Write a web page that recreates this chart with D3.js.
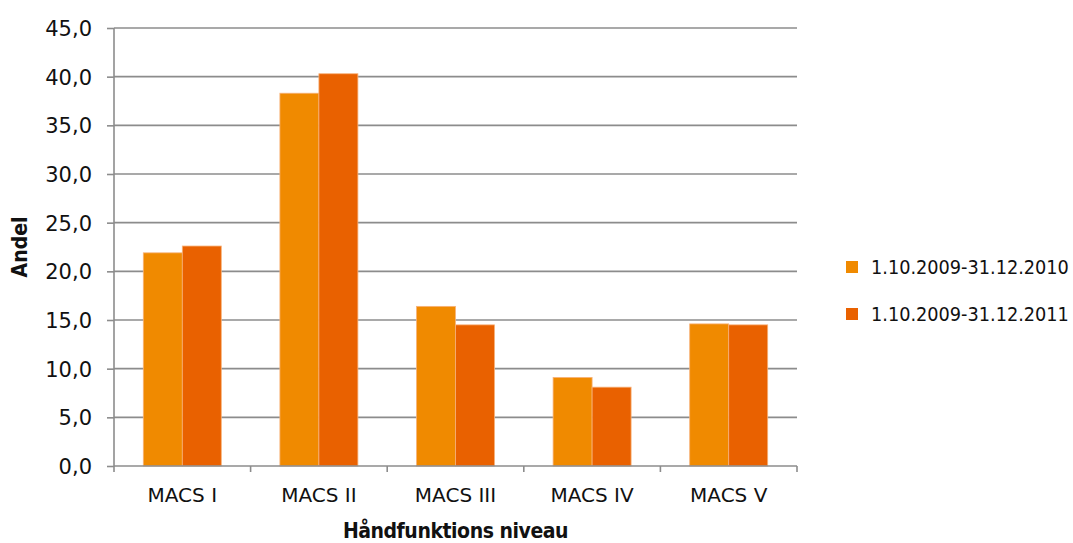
<!DOCTYPE html>
<html>
<head>
<meta charset="utf-8">
<script src="https://cdn.jsdelivr.net/npm/d3@7"></script>
<style>
  html, body { margin: 0; padding: 0; background: #fff; }
  svg { display: block; }
  text { font-family: "DejaVu Sans", sans-serif; fill: #111; }
  .title { font-family: "DejaVu Sans Condensed", "DejaVu Sans", sans-serif; font-weight: bold; }
  .legend-text { font-family: "DejaVu Sans Condensed", "DejaVu Sans", sans-serif; }
</style>
</head>
<body>
<svg id="chart" width="1073" height="543"></svg>
<script>
// MACS levels and share (%) per registration period
const categories = ["MACS I", "MACS II", "MACS III", "MACS IV", "MACS V"];
const seriesNames = ["1.10.2009-31.12.2010", "1.10.2009-31.12.2011"];
const series2010 = [21.9, 38.3, 16.4, 9.1, 14.6];
const series2011 = [22.6, 40.3, 14.5, 8.1, 14.5];
const yTicks = [0, 5, 10, 15, 20, 25, 30, 35, 40, 45];
const colors = ["#F08A00", "#E96100"];

const svg = d3.select("#chart");
const margin = { left: 114, right: 1073 - 797, top: 28, bottom: 543 - 466 };
const width = 1073 - margin.left - margin.right;
const height = 543 - margin.top - margin.bottom;

const g = svg.append("g").attr("transform", `translate(${margin.left},${margin.top})`);

const x = d3.scaleBand().domain(categories).range([0, width]).paddingInner(0).paddingOuter(0);
const inner = d3.scaleBand().domain([0, 1]).range([x.bandwidth() * 0.2145, x.bandwidth() * 0.7855]);
const y = d3.scaleLinear().domain([0, 45]).range([height, 0]);

const fmt = d => d.toFixed(1).replace(".", ",");

// horizontal gridlines
g.append("g").selectAll("line").data(yTicks.slice(1)).join("line")
  .attr("x1", 0).attr("x2", width)
  .attr("y1", d => y(d)).attr("y2", d => y(d))
  .attr("stroke", "#8c8c8c").attr("stroke-width", 1.6);

// bars
const rows = categories.map((c, i) => [series2010[i], series2011[i]]);
const groups = g.append("g").selectAll("g").data(rows).join("g")
  .attr("transform", (d, i) => `translate(${x(categories[i])},0)`);
groups.selectAll("rect").data(d => d).join("rect")
  .attr("x", (d, j) => inner(j))
  .attr("width", inner.bandwidth())
  .attr("y", d => y(d))
  .attr("height", d => height - y(d))
  .attr("fill", (d, j) => colors[j])
  .attr("stroke", "#f7b27a").attr("stroke-width", 0.8);

// y axis
const yAxis = g.append("g").call(
  d3.axisLeft(y).tickValues(yTicks).tickFormat(fmt).tickSize(7).tickPadding(15)
);
yAxis.select(".domain").attr("stroke", "#8c8c8c").attr("stroke-width", 1.6)
  .attr("d", `M0,${y(45)}V${height}`);
yAxis.selectAll(".tick line").attr("stroke", "#8c8c8c").attr("stroke-width", 1.6);
yAxis.selectAll(".tick text").style("font-size", "21px").style("font-family", "DejaVu Sans")
  .attr("fill", "#111").attr("dy", "0.36em");

// x axis with ticks at category boundaries
const xAxisG = g.append("g").attr("transform", `translate(0,${height})`);
xAxisG.append("line").attr("x1", 0).attr("x2", width).attr("y1", 0).attr("y2", 0)
  .attr("stroke", "#8c8c8c").attr("stroke-width", 1.6);
const bounds = categories.map(c => x(c)).concat([width]);
xAxisG.selectAll("line.b").data(bounds).join("line").attr("class", "b")
  .attr("x1", d => d).attr("x2", d => d).attr("y1", 0).attr("y2", 6)
  .attr("stroke", "#8c8c8c").attr("stroke-width", 1.6);
xAxisG.selectAll("text").data(categories).join("text")
  .attr("x", d => x(d) + x.bandwidth() / 2)
  .attr("y", 36)
  .attr("text-anchor", "middle")
  .style("font-size", "20px")
  .text(d => d);

// axis titles
svg.append("text").attr("class", "title")
  .attr("x", margin.left + width / 2).attr("y", 538)
  .attr("text-anchor", "middle")
  .style("font-size", "21px").style("letter-spacing", "-0.45px")
  .text("Håndfunktions niveau");
svg.append("text").attr("class", "title")
  .attr("transform", `translate(27,${margin.top + height / 2}) rotate(-90)`)
  .attr("text-anchor", "middle")
  .style("font-size", "21px")
  .text("Andel");

// legend
const legend = svg.append("g").attr("transform", "translate(846,261)");
const items = legend.selectAll("g").data(seriesNames).join("g")
  .attr("transform", (d, i) => `translate(0,${i * 47})`);
items.append("rect").attr("width", 12).attr("height", 12).attr("fill", (d, i) => colors[i]);
items.append("text").attr("class", "legend-text").attr("x", 25).attr("y", 6).attr("dy", "0.36em")
  .style("font-size", "19.7px").text(d => d);
</script>
</body>
</html>
